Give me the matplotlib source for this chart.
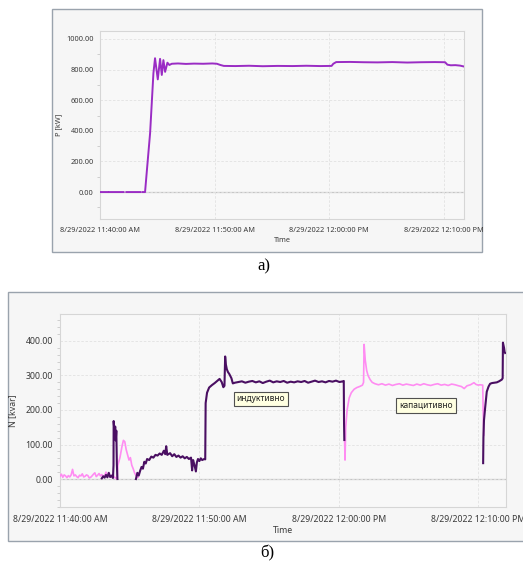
import numpy as np
import matplotlib
matplotlib.use("Agg")
import matplotlib.pyplot as plt
from matplotlib.patches import Rectangle
from matplotlib.ticker import AutoMinorLocator

# ---------------- data (time in minutes after 11:40:00) ----------------
x_tick_pos = [0, 10, 20, 30]
x_tick_labels_top = ["8/29/2022 11:40:00 AM", "8/29/2022 11:50:00 AM",
                     "8/29/2022 12:00:00 PM", "8/29/2022 12:10:00 PM"]
x_tick_labels_bot = x_tick_labels_top

# panel a) active power P [kW]
p_time = [0.0, 0.7, 0.75, 0.85, 2.05, 2.15, 2.3, 3.5, 3.6, 3.7, 3.93, 4.1, 4.37, 4.66,
          4.8, 5.04, 5.24, 5.39, 5.53, 5.68, 5.88, 6.05, 6.26, 6.8, 7.5, 8.2, 9.0, 9.8,
          10.2, 10.5, 10.8, 11.8, 13.0, 14.2, 15.5, 16.8, 18.0, 19.2, 20.2, 20.35,
          20.6, 21.8, 23.0, 24.2, 25.5, 26.8, 28.0, 29.2, 30.1, 30.3, 30.6, 31.0,
          31.4, 31.75]
p_vals = [0, 0, np.nan, 0, 0, np.nan, 0, 0, np.nan, 0, 0, 150, 385, 777,
          874, 736, 870, 765, 862, 785, 845, 830, 838, 840, 837, 839, 838, 840,
          838, 830, 824, 823, 825, 822, 824, 823, 825, 823, 824, 838,
          849, 850, 848, 847, 849, 846, 848, 849, 848, 832, 828, 829,
          826, 820]

# panel b) reactive power N [kvar]
# inductive (dark) trace
n_ind_time = [3.0, 3.1, 3.2, 3.3, 3.4, 3.5, 3.6, 3.7, 3.8, 3.84, 3.85, 3.88, 3.92,
              3.96, 4.0, 4.04, 4.08, 4.12, 4.15,
              5.45, 5.55, 5.65, 5.75, 5.85, 5.95, 6.05, 6.15, 6.25, 6.4, 6.55, 6.7,
              6.85, 7.0, 7.15, 7.3, 7.45, 7.55, 7.62, 7.7, 7.9, 8.05, 8.2, 8.35,
              8.5, 8.65, 8.8, 8.95, 9.1, 9.25, 9.4, 9.48, 9.55, 9.65, 9.75, 9.82,
              9.9, 10.0, 10.1, 10.2, 10.35, 10.42, 10.45, 10.55, 10.7, 10.9, 11.1,
              11.3, 11.45, 11.6, 11.72, 11.8, 11.85, 11.9, 11.97, 12.05, 12.15,
              12.3, 12.4, 12.55, 12.8, 13.05, 13.3, 13.55, 13.8, 14.05, 14.3, 14.55,
              14.8, 15.05, 15.3, 15.55, 15.8, 16.05, 16.3, 16.55, 16.8, 17.05, 17.3,
              17.55, 17.8, 18.05, 18.3, 18.55, 18.8, 19.05, 19.3, 19.55, 19.8,
              20.05, 20.3, 20.36, 20.38, 20.4,
              np.nan,
              30.36, 30.38, 30.42, 30.5, 30.62, 30.75, 30.86, 31.0, 31.15, 31.34,
              31.5, 31.7, 31.76, 31.78, 31.82, 31.86, 31.9, 31.94]
n_ind_vals = [2, 8, 4, 12, 5, 18, 6, 10, 3, 40, 168, 150, 130,
              152, 112, 140, 42, 0, np.nan,
              0, 18, 10, 24, 35, 30, 50, 45, 58, 55, 65, 62,
              70, 68, 74, 70, 82, 72, 95, 70, 75, 66, 72, 64,
              68, 62, 66, 60, 64, 58, 62, 25, 55, 40, 22, 48,
              58, 52, 60, 55, 58, 57, 220, 250, 265, 272, 278,
              285, 290, 281, 266, 270, 355, 332, 318, 310, 304,
              292, 277, 279, 281, 283, 279, 282, 284, 280, 283, 278,
              282, 285, 280, 283, 281, 284, 279, 282, 280, 283, 281,
              284, 279, 282, 285, 281, 283, 280, 284, 282, 285,
              281, 283, 284, 160, 113,
              np.nan,
              46, 120, 170, 205, 253, 268, 276, 278, 279, 280,
              283, 288, 292, 395, 388, 380, 368, 365]

# capacitive (pink) trace
n_cap_time = [0.0, 0.1, 0.2, 0.3, 0.4, 0.5, 0.6, 0.7, 0.8, 0.9, 1.0, 1.1, 1.2, 1.3,
              1.4, 1.5, 1.6, 1.7, 1.8, 1.9, 2.0, 2.1, 2.2, 2.3, 2.4, 2.5, 2.6, 2.7,
              2.8, 2.9, 3.0, 3.1, 3.2, 3.3, 3.4, 3.5, 3.6, 3.7, 3.8, 3.85,
              4.1, 4.15, 4.3, 4.45, 4.55, 4.65, 4.75, 4.85, 4.95, 5.05, 5.15, 5.25,
              5.35, 5.45, 5.55, 5.6, 5.65,
              20.42, 20.45, 20.5, 20.6, 20.75, 20.9, 21.1, 21.3, 21.5, 21.7, 21.78,
              21.82, 21.9, 22.0, 22.1, 22.25, 22.4, 22.6, 22.85, 23.1, 23.35, 23.6,
              23.85, 24.1, 24.35, 24.6, 24.85, 25.1, 25.35, 25.6, 25.85, 26.1,
              26.35, 26.6, 26.85, 27.1, 27.35, 27.6, 27.85, 28.1, 28.35, 28.6,
              28.8, 29.0, 29.2, 29.45, 29.7, 29.85, 30.0, 30.15, 30.33, 30.36, 30.4]
n_cap_vals = [8, 14, 5, 12, 9, 4, 10, 6, 12, 28, 9, 12, 7, 4,
              11, 9, 15, 6, 8, 12, 10, 3, 5, 9, 14, 18, 7, 11,
              16, 9, 13, 6, 10, 20, 8, 12, 5, 9, 14, 7,
              0, 40, 62, 95, 112, 108, 85, 70, 55, 62, 40, 30,
              18, 10, 14, 5, np.nan,
              112, 55, 150, 200, 235, 250, 260, 265, 268, 272, 280,
              390, 345, 315, 300, 288, 280, 276, 273, 276, 272, 275,
              271, 274, 276, 272, 275, 273, 271, 275, 272, 276,
              273, 271, 274, 276, 272, 274, 271, 275, 273, 270,
              268, 262, 270, 273, 279, 274, 272, 273, 272, 200, 127]

label_ind = "индуктивно"
label_cap = "капацитивно"

# ---------------- styling ----------------
W, H = 523, 567
fig = plt.figure(figsize=(W / 100, H / 100), dpi=100)
fig.patch.set_facecolor("white")

def fx(px):
    return px / W

def fy(py):
    return 1 - py / H

panel_bg = "#f6f6f6"
panel_edge = "#9aa3ad"
plot_bg = "#f8f8f8"
spine_col = "#d6d6d6"
grid_col = "#e2e2e2"
txt_col = "#3a3a3a"
font = "Noto Sans"

# outer panels (drawn beneath the axes)
fig.patches.append(Rectangle((fx(52), fy(252)), fx(430), 243 / H, transform=fig.transFigure,
                             facecolor=panel_bg, edgecolor=panel_edge, lw=1.0, zorder=-10))
fig.patches.append(Rectangle((fx(8), fy(541)), fx(540), 249 / H, transform=fig.transFigure,
                             facecolor=panel_bg, edgecolor=panel_edge, lw=1.0, zorder=-10))

def style_axes(ax, fs, ypad):
    ax.set_facecolor(plot_bg)
    for s in ax.spines.values():
        s.set_color(spine_col)
        s.set_linewidth(0.8)
    ax.grid(True, which="major", color=grid_col, lw=0.6, ls=(0, (3, 2)))
    ax.tick_params(axis="both", which="major", length=0, labelsize=fs, colors=txt_col)
    ax.tick_params(axis="y", which="major", pad=ypad)
    ax.tick_params(axis="y", which="minor", length=2, color="#c8c8c8", width=0.6)
    ax.tick_params(axis="x", which="major", pad=6)
    for lab in ax.get_xticklabels() + ax.get_yticklabels():
        lab.set_fontfamily(font)
    ax.axhline(0, color="#c4c4c4", lw=0.9, zorder=1)

# ---- top panel ----
ax1 = fig.add_axes([fx(100), fy(219), fx(364), 188 / H])
ax1.plot(p_time, p_vals, color="#9a2cc4", lw=1.4, zorder=3)
ax1.set_xlim(0, 31.75)
ax1.set_ylim(-176, 1052)
ax1.set_yticks([0, 200, 400, 600, 800, 1000])
ax1.set_yticklabels(["0.00", "200.00", "400.00", "600.00", "800.00", "1000.00"])
ax1.yaxis.set_minor_locator(AutoMinorLocator(2))
ax1.set_xticks(x_tick_pos)
ax1.set_xticklabels(x_tick_labels_top)
style_axes(ax1, 5.3, 4.5)
ax1.set_ylabel("P [kW]", fontsize=5.3, color=txt_col, family=font, labelpad=3)
ax1.set_xlabel("Time", fontsize=5.3, color=txt_col, family=font, labelpad=2)

# ---- bottom panel ----
ax2 = fig.add_axes([fx(60), fy(507), fx(446), 193 / H])
ax2.plot(n_cap_time, n_cap_vals, color="#ff8cf2", lw=1.2, zorder=3)
ax2.plot(n_ind_time, n_ind_vals, color="#4a0f62", lw=1.5, zorder=4)
ax2.set_xlim(0, 32.0)
ax2.set_ylim(-81, 478)
ax2.set_yticks([0, 100, 200, 300, 400])
ax2.set_yticklabels(["0.00", "100.00", "200.00", "300.00", "400.00"])
ax2.yaxis.set_minor_locator(AutoMinorLocator(5))
ax2.set_xticks(x_tick_pos)
ax2.set_xticklabels(x_tick_labels_bot)
style_axes(ax2, 6.3, 5)
ax2.set_ylabel("N [kvar]", fontsize=6.3, color=txt_col, family=font, labelpad=6)
ax2.set_xlabel("Time", fontsize=6.3, color=txt_col, family=font, labelpad=1)

box = dict(boxstyle="square,pad=0.35", fc="#ffffe1", ec="#505050", lw=0.8)
ax2.text(14.4, 232, label_ind, ha="center", va="center", fontsize=6.0, family=font,
         color="#222222", bbox=box, zorder=6)
ax2.text(26.25, 214, label_cap, ha="center", va="center", fontsize=6.0, family=font,
         color="#222222", bbox=box, zorder=6)

# captions
fig.text(fx(264), fy(266), "а)", ha="center", va="center", fontsize=12,
         family="Liberation Serif", color="black")
fig.text(fx(267), fy(553), "б)", ha="center", va="center", fontsize=12,
         family="Liberation Serif", color="black")

fig.savefig("out.png", dpi=100, facecolor="white")
